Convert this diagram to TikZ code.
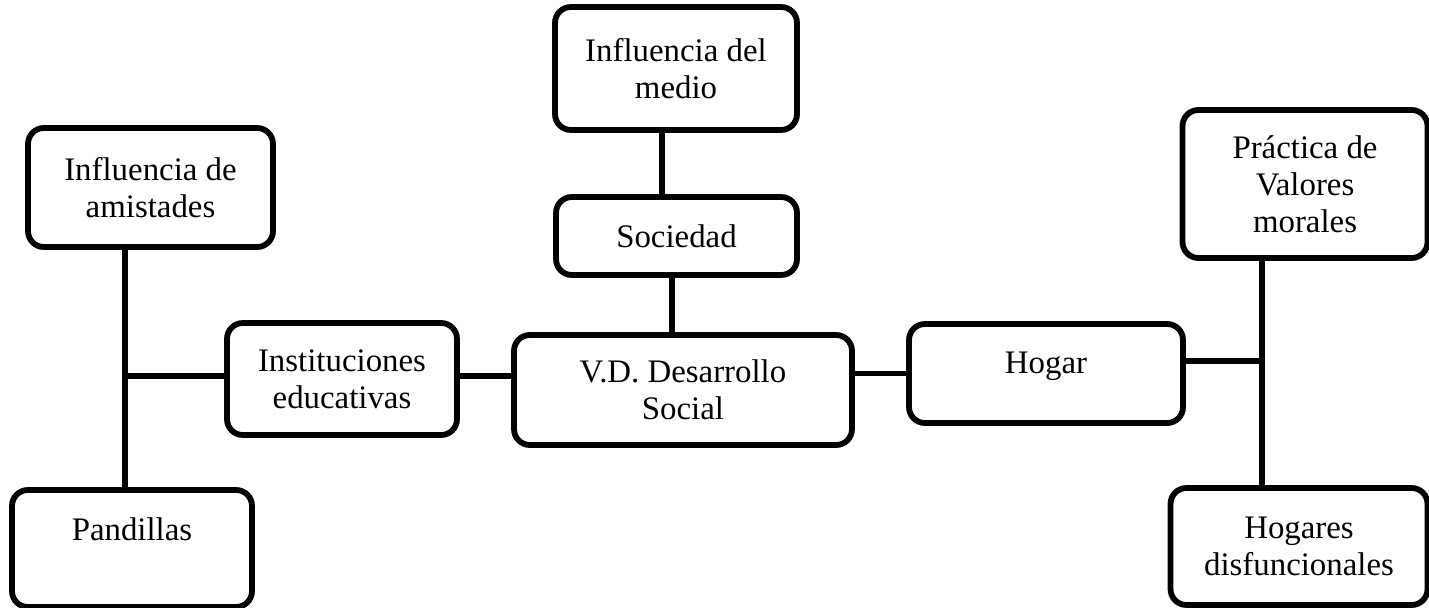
\documentclass[tikz,border=0pt]{standalone}
\usepackage{fontspec}
\setmainfont{Liberation Serif}
\usepackage{tikz}

\begin{document}
\begin{tikzpicture}[x=0.02cm,y=-0.02cm,
        caja/.style={shape=rectangle,draw=black,line width=3.3pt,rounded corners=9pt,
                     align=center,inner sep=2pt,font=\fontsize{18.7}{21}\selectfont},
        linea/.style={draw=black,line width=3.3pt}]
    \useasboundingbox (0,0) rectangle (1429,608);
    \path (676,68.5) node (medio) [caja,minimum width=4.84cm,minimum height=2.46cm] {Influencia del\\medio}
          (676.5,236) node (soc) [caja,minimum width=4.82cm,minimum height=1.56cm] {Sociedad}
          (683,390) node (vd) [caja,minimum width=6.76cm,minimum height=2.2cm] {V.D. Desarrollo\\Social}
          (342,379) node (inst) [caja,minimum width=4.6cm,minimum height=2.24cm] {Instituciones\\educativas}
          (150.5,187.5) node (amist) [caja,minimum width=4.9cm,minimum height=2.38cm] {Influencia de\\amistades}
          (132,548.5) node (pand) [caja,minimum width=4.8cm,minimum height=2.34cm,text height=12pt,text depth=21.6pt] {Pandillas}
          (1046,373.5) node (hogar) [caja,minimum width=5.48cm,minimum height=1.98cm,text height=12pt,text depth=12pt] {Hogar}
          (1305,184) node (valores) [caja,minimum width=4.9cm,minimum height=2.96cm] {Práctica de\\Valores\\morales}
          (1299,546.5) node (disf) [caja,minimum width=5.14cm,minimum height=2.34cm] {Hogares\\disfuncionales};
    \coordinate (j1) at (125,376);
    \coordinate (j2) at (1262,361);
    \draw[linea] ([xshift=-0.28cm]medio.south) -- ([xshift=-0.29cm]soc.north);
    \draw[linea] ([xshift=-0.09cm]soc.south) -- ([xshift=-0.22cm]vd.north);
    \draw[linea] (j1 |- amist.south) -- (j1 |- pand.north);
    \draw[linea] (j1) -- (j1 -| inst.west);
    \draw[linea] (inst.east |- j1) -- (vd.west |- j1);
    \draw[linea] (vd.east |- hogar.west) -- (hogar.west);
    \draw[linea] (hogar.east |- j2) -- (j2);
    \draw[linea] (j2 |- valores.south) -- (j2 |- disf.north);
\end{tikzpicture}
\end{document}
